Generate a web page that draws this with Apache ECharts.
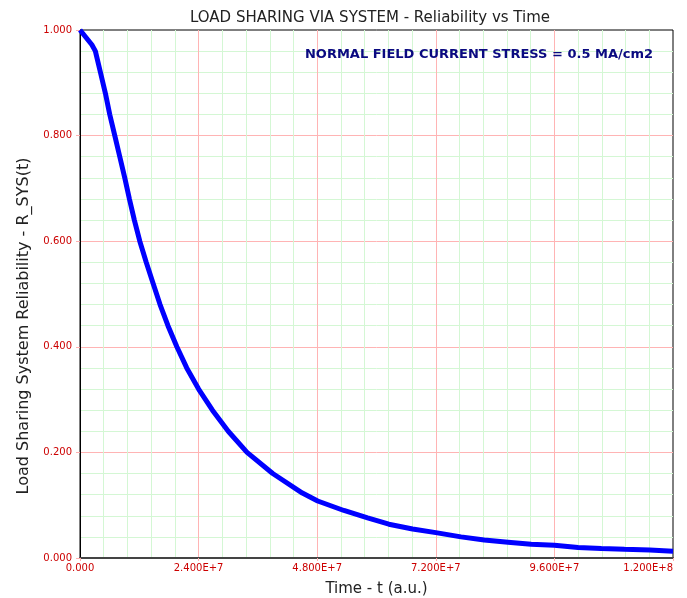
<!DOCTYPE html>
<html lang="en">
<head>
  <meta charset="UTF-8">
  <script src="https://cdn.jsdelivr.net/npm/echarts@6.0.0/dist/echarts.min.js"></script>
  <title>Load Sharing via System - Reliability vs Time</title>
  <style>
    html, body { margin: 0; padding: 0; background: #fff; }
    #chart { width: 687px; height: 598px; }
  </style>
</head>
<body>
<div id="chart"></div>
<script>
// time values (a.u.)
var timeVals = [0, 2.4e6, 3.11e6, 4.13e6, 5.14e6, 6.02e6, 7.04e6, 8.05e6, 9.06e6, 1.0e7,
  1.10e7, 1.21e7, 1.34e7, 1.48e7, 1.62e7, 1.78e7, 1.96e7, 2.16e7, 2.40e7, 2.68e7,
  3.0e7, 3.38e7, 3.90e7, 4.50e7, 4.81e7, 5.34e7, 5.82e7, 6.25e7, 6.73e7, 7.20e7,
  7.71e7, 8.18e7, 8.66e7, 9.13e7, 9.60e7, 1.008e8, 1.055e8, 1.102e8, 1.153e8, 1.20e8];
// system reliability R_SYS(t)
var relVals = [1.000, 0.972, 0.960, 0.920, 0.880, 0.840, 0.800, 0.760, 0.720, 0.680,
  0.640, 0.600, 0.560, 0.520, 0.480, 0.440, 0.400, 0.360, 0.320, 0.280,
  0.240, 0.200, 0.160, 0.123, 0.108, 0.090, 0.076, 0.064, 0.055, 0.048,
  0.040, 0.034, 0.030, 0.026, 0.024, 0.020, 0.018, 0.0165, 0.015, 0.013];

var chartTitle = 'LOAD SHARING VIA SYSTEM - Reliability vs Time';
var noteText = 'NORMAL FIELD CURRENT STRESS = 0.5 MA/cm2';
var xName = 'Time - t (a.u.)';
var yName = 'Load Sharing System Reliability - R_SYS(t)';

var seriesData = timeVals.map(function (t, i) { return [t, relVals[i]]; });

var myChart = echarts.init(document.getElementById('chart'));

var option = {
  animation: false,
  textStyle: { fontFamily: 'DejaVu Sans' },
  title: {
    text: chartTitle,
    left: 365,
    textAlign: 'center',
    top: 6,
    textStyle: { fontSize: 15, fontWeight: 'normal', color: '#222', fontFamily: 'DejaVu Sans' }
  },
  grid: {
    left: 80, right: 14, top: 30, bottom: 40,
    containLabel: false,
    outerBoundsMode: 'none',
    show: true, borderColor: '#000', borderWidth: 1, backgroundColor: '#fff'
  },
  xAxis: {
    type: 'value',
    min: 0, max: 1.2e8, interval: 2.4e7,
    name: xName,
    nameLocation: 'middle',
    nameGap: 24,
    nameTextStyle: { fontSize: 15, color: '#222', fontFamily: 'DejaVu Sans' },
    axisLine: { show: true, lineStyle: { color: '#444', width: 2 } },
    axisTick: { show: true, length: 3, lineStyle: { color: '#ffb0b0' } },
    axisLabel: {
      color: '#cc0000', fontSize: 10, margin: 5,
      alignMaxLabel: 'right',
      formatter: function (v) {
        if (v === 0) return '0.000';
        return v.toExponential(3).toUpperCase();
      }
    },
    splitLine: { show: true, showMinLine: false, showMaxLine: false, lineStyle: { color: '#ffb4b4', width: 1 } },
    minorTick: { show: false, splitNumber: 5 },
    minorSplitLine: { show: true, lineStyle: { color: '#d4f7d4', width: 1 } }
  },
  yAxis: {
    type: 'value',
    min: 0, max: 1, interval: 0.2,
    axisLine: { show: true, lineStyle: { color: '#000', width: 1 } },
    axisTick: { show: true, length: 4, lineStyle: { color: '#ffb0b0' } },
    axisLabel: {
      color: '#cc0000', fontSize: 10, margin: 8,
      formatter: function (v) { return v.toFixed(3); }
    },
    splitLine: { show: true, showMinLine: false, showMaxLine: false, lineStyle: { color: '#ffb4b4', width: 1 } },
    minorTick: { show: false, splitNumber: 5 },
    minorSplitLine: { show: true, lineStyle: { color: '#d4f7d4', width: 1 } }
  },
  graphic: [
    {
      type: 'text',
      x: 24,
      y: 326,
      rotation: Math.PI / 2,
      style: {
        text: yName,
        fill: '#222',
        font: '16px "DejaVu Sans", sans-serif',
        align: 'center',
        verticalAlign: 'middle'
      }
    },
    {
      type: 'text',
      right: 34,
      top: 48,
      style: {
        text: noteText,
        fill: '#0a0a80',
        font: 'bold 13px "DejaVu Sans", sans-serif'
      },
      z: 100
    }
  ],
  series: [
    {
      type: 'line',
      data: seriesData,
      showSymbol: false,
      smooth: false,
      lineStyle: { color: '#0000ff', width: 5 },
      itemStyle: { color: '#0000ff' },
      z: 10
    }
  ]
};

myChart.setOption(option);
</script>
</body>
</html>
